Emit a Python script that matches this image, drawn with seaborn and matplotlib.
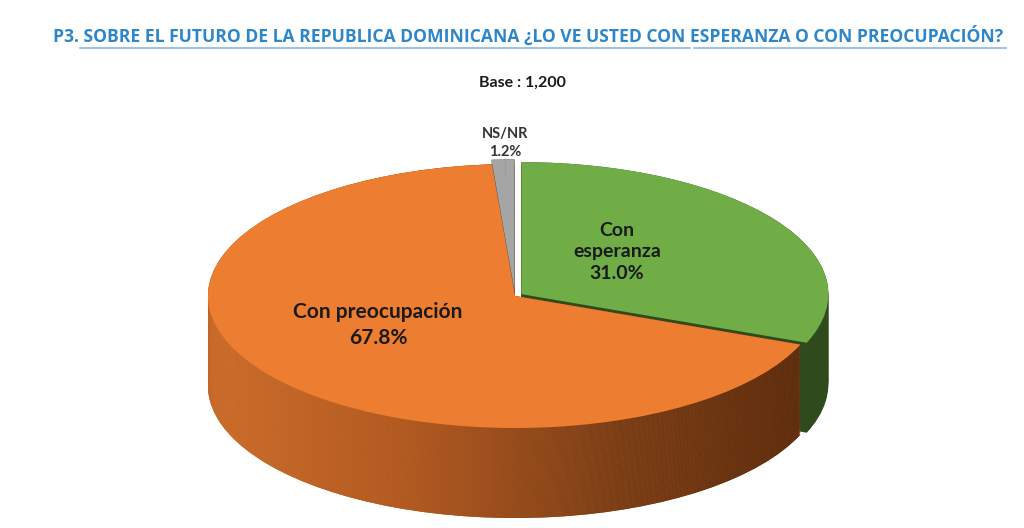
import numpy as np
import matplotlib
matplotlib.use('Agg')
import matplotlib.pyplot as plt
import seaborn as sns
from matplotlib.colors import LinearSegmentedColormap
from matplotlib.lines import Line2D

# ---- data ----
labels = ['Con esperanza', 'Con preocupación', 'NS/NR']
values = [31.0, 67.8, 1.2]
pct_labels = ['31.0%', '67.8%', '1.2%']
top_colors = ['#70AD47', '#ED7D31', '#A5A5A5']
side_colors = ['#2F4B1D', '#A6531F', '#454545']
explode = [0.025, 0.0, 0.035]

title = 'P3. SOBRE EL FUTURO DE LA REPUBLICA DOMINICANA ¿LO VE USTED CON ESPERANZA O CON PREOCUPACIÓN?'
base_text = 'Base : 1,200'

sns.set_theme(style='white')
plt.rcParams['font.family'] = ['Lato', 'DejaVu Sans']

W, H = 1024, 528
fig = plt.figure(figsize=(W / 100, H / 100), dpi=100)
ax = fig.add_axes([0, 0, 1, 1])

# ellipse geometry in pixels
cx, cy, rx, ry, depth_px = 515, 296, 307, 132, 90
xlim = (-cx / rx, (W - cx) / rx)
ylim = (-(H - cy) / ry, cy / ry)
depth = depth_px / ry

cmap = LinearSegmentedColormap.from_list('side', ['#D2712D', '#B25A22', '#7A3E16', '#55290C'])
grad = np.linspace(0, 1, 256).reshape(1, -1)

N = 45
ds = np.linspace(depth, 0.0, N)
for i, d in enumerate(ds):
    wedges, _ = ax.pie(values, colors=side_colors, startangle=90, counterclock=False,
                       explode=explode, center=(0, -d), radius=1.0,
                       wedgeprops=dict(linewidth=0, antialiased=True))
    for w in wedges:
        w.set_zorder(i)
    im = ax.imshow(grad, cmap=cmap, extent=(-1.0, 1.0, -2.5, 1.5), aspect='auto',
                   zorder=i + 0.5, interpolation='bilinear')
    im.set_clip_path(wedges[1])

top, _ = ax.pie(values, colors=top_colors, startangle=90, counterclock=False,
                explode=explode, center=(0, 0), radius=1.0,
                wedgeprops=dict(linewidth=0))
for w in top:
    w.set_zorder(N + 2)

ax.set_aspect('auto')
ax.set_xlim(*xlim)
ax.set_ylim(*ylim)
ax.axis('off')

def px(x, y):
    return x / W, 1 - y / H

# title
fig.text(*px(528, 36), title, ha='center', va='center', fontsize=12.6,
         fontweight='bold', color='#2E86C8', family=['Open Sans', 'DejaVu Sans'])
for x0, x1 in [(80, 690), (694, 1006)]:
    fig.add_artist(Line2D([x0 / W, x1 / W], [1 - 48 / H, 1 - 48 / H],
                          color='#9DC3E6', lw=1.5, transform=fig.transFigure))

fig.text(*px(522, 83), base_text, ha='center', va='center', fontsize=11.5,
         fontweight='bold', color='#1a1a1a')

# slice labels
fig.text(*px(617, 252), f'{labels[0][:3]}\n{labels[0][4:]}\n{pct_labels[0]}', ha='center',
         va='center', fontsize=14, fontweight='bold', color='#1a1a1a', linespacing=1.3,
         zorder=100)
fig.text(*px(378, 325), f'{labels[1]}\n{pct_labels[1]}', ha='center', va='center',
         fontsize=15, fontweight='bold', color='#1a1a1a', linespacing=1.4, zorder=100)
fig.text(*px(505, 143), f'{labels[2]}\n{pct_labels[2]}', ha='center', va='center',
         fontsize=10.5, fontweight='bold', color='#333333', linespacing=1.3, zorder=100)
fig.add_artist(Line2D([505 / W, 505 / W], [1 - 161 / H, 1 - 174 / H], color='#999999',
                      lw=0.8, transform=fig.transFigure))

fig.savefig('out.png', dpi=100, facecolor='white')
